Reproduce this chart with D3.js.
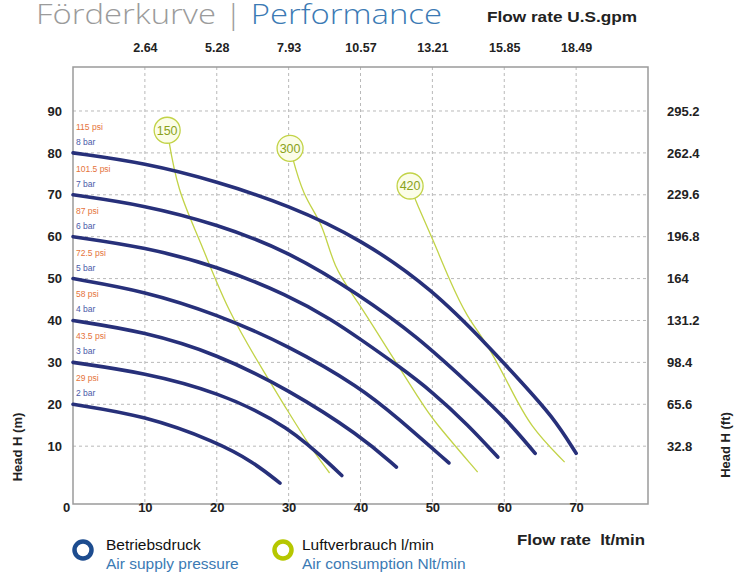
<!DOCTYPE html>
<html><head><meta charset="utf-8">
<script src="https://cdn.jsdelivr.net/npm/d3@7"></script>
<style>body{margin:0;background:#fff}svg{display:block}</style>
</head><body><svg id="c" width="745" height="574"></svg>
<script>
// ---- data ----
const flowTicks = [10,20,30,40,50,60,70];
const gpmLabels = ["2.64","5.28","7.93","10.57","13.21","15.85","18.49"];
const headTicks = [10,20,30,40,50,60,70,80,90];
const ftLabels = ["32.8","65.6","98.4","131.2","164","196.8","229.6","262.4","295.2"];
const pressureBar = ["8 bar","7 bar","6 bar","5 bar","4 bar","3 bar","2 bar"];
const pressurePsi = ["115 psi","101.5 psi","87 psi","72.5 psi","58 psi","43.5 psi","29 psi"];
const curve8 = [[0,80],[10,77.6],[20,73.2],[30,67.5],[40,59.5],[50,47.5],[58,33.5],[62,26],[66.8,17],[70,8.3]];
const curve7 = [[0,70],[10,67.5],[20,63],[30,56.5],[40,46],[48,36],[55,25],[60,17],[64.3,8.3]];
const curve6 = [[0,60],[10,57.5],[20,53],[30,46],[36.2,40],[40,35.5],[45,29.5],[50,23],[55,15],[59.1,7.4]];
const curve5 = [[0,50],[10,47],[20,41.5],[30,34],[40,24],[45,17],[52.3,6]];
const curve4 = [[0,40],[10,37.3],[20,32],[30,23.5],[40,12.5],[45,5]];
const curve3 = [[0,30],[10,27.5],[20,23],[30,15],[37.4,3]];
const curve2 = [[0,20],[10,17.3],[20,11],[25,6.3],[28.8,1.2]];
const air150 = [[13.1,85.4],[14.5,71],[17.7,59.2],[21.4,42.5],[27,26.5],[29.8,18.6],[33,9.8],[35.7,3.6]];
const air300 = [[30.2,81.1],[32,69.5],[34.8,63.2],[36.2,52.7],[39.5,44.9],[44.1,32.2],[48.3,21],[49.7,17],[56.3,3.8]];
const air420 = [[46.9,72.1],[47.8,68],[50.1,59.2],[52.4,49.6],[54.8,40.8],[57.6,34.6],[60.8,24.1],[63.6,14.6],[68.4,6.2]];
const airLabels = ["150","300","420"];

const pumpCurves = [curve8,curve7,curve6,curve5,curve4,curve3,curve2];
const airCurves = [air150,air300,air420];

// ---- layout ----
const svg = d3.select("#c");
const x = d3.scaleLinear().domain([0,80]).range([73,648]);
const y = d3.scaleLinear().domain([-3.8,100.5]).range([504,67]);
const navy = "#27307a", green = "#c2d347";
const boldFont = "'Liberation Sans', Arial, sans-serif";

// grid
const g = svg.append("g");
g.selectAll("line.v").data(flowTicks).join("line")
  .attr("x1",d=>x(d)).attr("x2",d=>x(d)).attr("y1",y.range()[1]).attr("y2",y.range()[0])
  .attr("stroke","#b9b9b9").attr("stroke-width",1).attr("stroke-dasharray","3,3");
g.selectAll("line.h").data(headTicks).join("line")
  .attr("x1",x.range()[0]).attr("x2",x.range()[1]).attr("y1",d=>y(d)).attr("y2",d=>y(d))
  .attr("stroke","#b9b9b9").attr("stroke-width",1).attr("stroke-dasharray","3,3");
// frame
g.append("rect").attr("x",x.range()[0]).attr("y",y.range()[1])
  .attr("width",x.range()[1]-x.range()[0]).attr("height",y.range()[0]-y.range()[1])
  .attr("fill","none").attr("stroke","#9a9a9a").attr("stroke-width",1.5);

// axes (text only)
const axBottom = d3.axisBottom(x).tickValues([0].concat(flowTicks)).tickSize(0).tickPadding(0);
const ga = svg.append("g").attr("transform","translate(0,512)").call(axBottom);
ga.select(".domain").remove();
ga.selectAll("text").attr("font-family",boldFont).attr("font-weight","bold").attr("font-size",13).attr("fill","#222")
  .attr("dy","0").attr("x",d=>d===0?-7:0);

const axTop = d3.axisTop(x).tickValues(flowTicks).tickFormat((d,i)=>gpmLabels[i]).tickSize(0).tickPadding(0);
const gt = svg.append("g").attr("transform","translate(0,52)").call(axTop);
gt.select(".domain").remove();
gt.selectAll("text").attr("font-family",boldFont).attr("font-weight","bold").attr("font-size",12.5).attr("fill","#222");

const axLeft = d3.axisLeft(y).tickValues(headTicks).tickSize(0).tickPadding(0);
const gl = svg.append("g").attr("transform","translate(62,0)").call(axLeft);
gl.select(".domain").remove();
gl.selectAll("text").attr("font-family",boldFont).attr("font-weight","bold").attr("font-size",13).attr("fill","#222");

const axRight = d3.axisRight(y).tickValues(headTicks).tickFormat((d,i)=>ftLabels[i]).tickSize(0).tickPadding(0);
const gr = svg.append("g").attr("transform","translate(667,0)").call(axRight);
gr.select(".domain").remove();
gr.selectAll("text").attr("font-family",boldFont).attr("font-weight","bold").attr("font-size",13).attr("fill","#222");

// axis titles
svg.append("text").attr("transform","translate(22,447) rotate(-90)").attr("text-anchor","middle")
  .attr("font-family",boldFont).attr("font-weight","bold").attr("font-size",13).attr("fill","#222").text("Head H (m)");
svg.append("text").attr("transform","translate(730,445) rotate(-90)").attr("text-anchor","middle")
  .attr("font-family",boldFont).attr("font-weight","bold").attr("font-size",13).attr("fill","#222").text("Head H (ft)");
svg.append("text").attr("x",517).attr("y",545).attr("textLength",128).attr("lengthAdjust","spacingAndGlyphs")
  .attr("font-family",boldFont).attr("font-weight","bold").attr("font-size",14).attr("fill","#222").text("Flow rate\u00a0\u00a0lt/min");
svg.append("text").attr("x",487).attr("y",22).attr("textLength",150).attr("lengthAdjust","spacingAndGlyphs")
  .attr("font-family",boldFont).attr("font-weight","bold").attr("font-size",15).attr("fill","#222").text("Flow rate U.S.gpm");

// title
const title = svg.append("text").attr("x",36).attr("y",24).attr("font-family","'Open Sans', Roboto, sans-serif")
  .attr("font-weight",300).attr("font-size",27);
title.append("tspan").attr("fill","#9b9b9b").text("Förderkurve | ");
title.append("tspan").attr("fill","#3b7ab4").text("Performance");
title.attr("textLength",406).attr("lengthAdjust","spacingAndGlyphs");

// pressure labels
pumpCurves.forEach((c,i)=>{
  svg.append("text").attr("x",x(0)+3).attr("y",y(c[0][1])-23).attr("font-family",boldFont).attr("font-size",8.5)
    .attr("fill","#e5733b").text(pressurePsi[i]);
  svg.append("text").attr("x",x(0)+3).attr("y",y(c[0][1])-8).attr("font-family",boldFont).attr("font-size",8.5)
    .attr("fill","#4b5aa8").text(pressureBar[i]);
});

const line = d3.line().x(d=>x(d[0])).y(d=>y(d[1])).curve(d3.curveBasis);
// air consumption lines
svg.selectAll("path.air").data(airCurves).join("path").attr("class","air").attr("d",line)
  .attr("fill","none").attr("stroke",green).attr("stroke-width",1.3);
// pump curves
svg.selectAll("path.pump").data(pumpCurves).join("path").attr("class","pump").attr("d",line)
  .attr("fill","none").attr("stroke",navy).attr("stroke-width",3.6).attr("stroke-linecap","round");
// air labels
airCurves.forEach((c,i)=>{
  svg.append("circle").attr("cx",x(c[0][0])).attr("cy",y(c[0][1])).attr("r",13)
    .attr("fill","#fbfde8").attr("stroke",green).attr("stroke-width",1.3);
  svg.append("text").attr("x",x(c[0][0])).attr("y",y(c[0][1])+4.5).attr("text-anchor","middle")
    .attr("font-family",boldFont).attr("font-size",12.5).attr("fill","#8aa21a").text(airLabels[i]);
});

// legend
svg.append("circle").attr("cx",83).attr("cy",550).attr("r",8.5).attr("fill","none").attr("stroke","#1d4c8f").attr("stroke-width",4.5);
svg.append("circle").attr("cx",283).attr("cy",550).attr("r",8.5).attr("fill","none").attr("stroke","#b6c700").attr("stroke-width",4.5);
const lf = "'Liberation Sans', Arial, sans-serif";
svg.append("text").attr("x",106).attr("y",550).attr("font-family",lf).attr("font-size",15.5).attr("fill","#111").text("Betriebsdruck");
svg.append("text").attr("x",106).attr("y",569).attr("font-family",lf).attr("font-size",15.5).attr("fill","#3b7ab4").text("Air supply pressure");
svg.append("text").attr("x",302).attr("y",550).attr("font-family",lf).attr("font-size",15.5).attr("fill","#111").text("Luftverbrauch l/min");
svg.append("text").attr("x",302).attr("y",569).attr("font-family",lf).attr("font-size",15.5).attr("fill","#3b7ab4").text("Air consumption Nlt/min");
</script></body></html>
